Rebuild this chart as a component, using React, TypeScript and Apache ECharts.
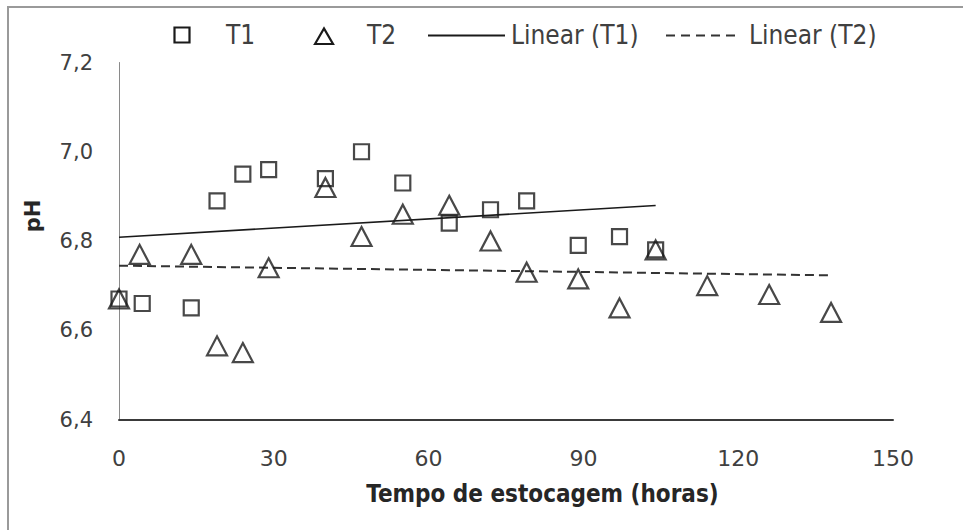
import React, { useEffect, useRef } from "react";
import * as echarts from "echarts";

const t1Hours = [0, 4.5, 14, 19, 24, 29, 40, 47, 55, 64, 72, 79, 89, 97, 104];
const t1PH = [6.67, 6.66, 6.65, 6.89, 6.95, 6.96, 6.94, 7.0, 6.93, 6.84, 6.87, 6.89, 6.79, 6.81, 6.78];
const t2Hours = [0, 4, 14, 19, 24, 29, 40, 47, 55, 64, 72, 79, 89, 97, 104, 114, 126, 138];
const t2PH = [6.67, 6.77, 6.77, 6.565, 6.55, 6.74, 6.92, 6.81, 6.86, 6.88, 6.8, 6.73, 6.715, 6.65, 6.78, 6.7, 6.68, 6.64];
const seriesNames = ["T1", "T2", "Linear (T1)", "Linear (T2)"];

function linearFit(xs: number[], ys: number[]): number[][] {
  const n = xs.length;
  const mx = xs.reduce((a, b) => a + b, 0) / n;
  const my = ys.reduce((a, b) => a + b, 0) / n;
  let sxy = 0;
  let sxx = 0;
  for (let i = 0; i < n; i++) {
    sxy += (xs[i] - mx) * (ys[i] - my);
    sxx += (xs[i] - mx) * (xs[i] - mx);
  }
  const b = sxy / sxx;
  const a = my - b * mx;
  const x0 = Math.min(...xs);
  const x1 = Math.max(...xs);
  return [
    [x0, a + b * x0],
    [x1, a + b * x1],
  ];
}

const narrow = "'Liberation Sans Narrow', 'DejaVu Sans Condensed', Lato, sans-serif";
const ink = "#1a1a1a";
const legendText = { fill: "#404040", font: `26px ${narrow}`, verticalAlign: "middle" as const };

export default function App() {
  const ref = useRef<HTMLDivElement>(null);
  useEffect(() => {
    if (!ref.current) return;
    const chart = echarts.init(ref.current, undefined, { renderer: "svg" });
    const markerStyle = { color: "rgba(0,0,0,0)", borderColor: ink, borderWidth: 2.2 };
    chart.setOption({
      animation: false,
      backgroundColor: "#ffffff",
      grid: { left: 119, right: 70, top: 62.5, bottom: 110.5 },
      xAxis: {
        type: "value",
        min: 0,
        max: 150,
        interval: 30,
        name: "Tempo de estocagem (horas)",
        nameLocation: "middle",
        nameGap: 62,
        nameTextStyle: {
          fontFamily: narrow,
          fontWeight: "bold",
          fontSize: 24,
          color: "#262626",
          padding: [0, 0, 0, 73],
        },
        axisLine: { lineStyle: { color: "#3a3a3a", width: 2 } },
        axisTick: { show: false },
        splitLine: { show: false },
        axisLabel: { fontFamily: "'DejaVu Sans', sans-serif", fontSize: 22, color: "#404040", margin: 28 },
      },
      yAxis: {
        type: "value",
        min: 6.4,
        max: 7.2,
        interval: 0.2,
        name: "pH",
        nameLocation: "middle",
        nameRotate: 90,
        nameGap: 76,
        nameTextStyle: {
          fontFamily: "'DejaVu Sans', sans-serif",
          fontWeight: "bold",
          fontSize: 21,
          color: "#262626",
          padding: [0, 0, 0, 50],
        },
        axisLine: { show: true, lineStyle: { color: "#8a8a8a", width: 1 } },
        axisTick: { show: false },
        splitLine: { show: false },
        axisLabel: {
          fontFamily: "'DejaVu Sans', sans-serif",
          fontSize: 21,
          color: "#404040",
          margin: 26,
          formatter: (v: number) => v.toFixed(1).replace(".", ","),
        },
      },
      graphic: [
        {
          type: "rect",
          shape: { x: 8, y: 7, width: 1000, height: 600 },
          style: { fill: "none", stroke: "#9a9a9a", lineWidth: 2 },
          silent: true,
        },
        {
          type: "group",
          silent: true,
          children: [
            {
              type: "rect",
              shape: { x: 174.5, y: 27.5, width: 15, height: 15 },
              style: { fill: "none", stroke: ink, lineWidth: 2.2 },
            },
            { type: "text", x: 226, y: 35, style: { ...legendText, text: seriesNames[0] } },
            {
              type: "polygon",
              shape: { points: [[315, 44], [324, 28.5], [333, 44]] },
              style: { fill: "none", stroke: ink, lineWidth: 2.2 },
            },
            { type: "text", x: 367, y: 35, style: { ...legendText, text: seriesNames[1] } },
            {
              type: "line",
              shape: { x1: 428, y1: 35.5, x2: 505, y2: 35.5 },
              style: { stroke: ink, lineWidth: 1.8 },
            },
            { type: "text", x: 511, y: 35, style: { ...legendText, text: seriesNames[2] } },
            {
              type: "line",
              shape: { x1: 666, y1: 35.5, x2: 738, y2: 35.5 },
              style: { stroke: "#333333", lineWidth: 2, lineDash: [9, 6] },
            },
            { type: "text", x: 749, y: 35, style: { ...legendText, text: seriesNames[3] } },
          ],
        },
      ],
      series: [
        {
          name: seriesNames[2],
          type: "line",
          data: linearFit(t1Hours, t1PH),
          symbol: "none",
          lineStyle: { color: ink, width: 1.6, type: "solid" },
          itemStyle: { color: ink },
          z: 1,
        },
        {
          name: seriesNames[3],
          type: "line",
          data: linearFit(t2Hours, t2PH),
          symbol: "none",
          lineStyle: { color: "#333333", width: 2, type: [9, 5] },
          itemStyle: { color: "#333333" },
          z: 1,
        },
        {
          name: seriesNames[0],
          type: "scatter",
          data: t1Hours.map((h, i) => [h, t1PH[i]]),
          symbol: "rect",
          symbolSize: 15,
          itemStyle: markerStyle,
          z: 3,
        },
        {
          name: seriesNames[1],
          type: "scatter",
          data: t2Hours.map((h, i) => [h, t2PH[i]]),
          symbol: "triangle",
          symbolSize: [20, 19],
          itemStyle: markerStyle,
          z: 3,
        },
      ],
    });
    return () => chart.dispose();
  }, []);
  return (
    <div
      ref={ref}
      style={{ position: "absolute", left: 0, top: 0, width: 963, height: 530, background: "#fff" }}
    />
  );
}
